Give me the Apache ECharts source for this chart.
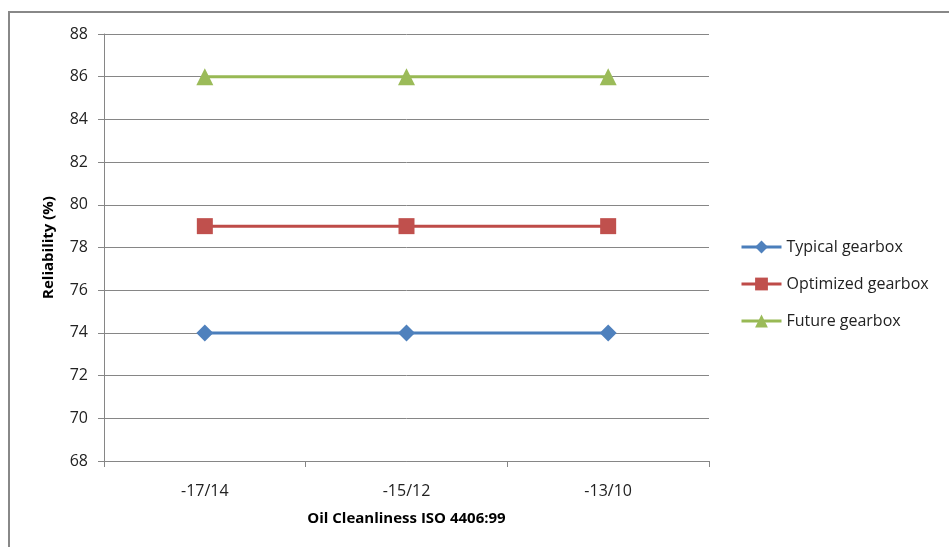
<!DOCTYPE html>
<html><head><meta charset="utf-8">
<script src="https://cdn.jsdelivr.net/npm/echarts@6/dist/echarts.min.js"></script>
<style>html,body{margin:0;padding:0;background:#fff}#c{width:949px;height:547px}</style>
</head><body><div id="c"></div>
<script>
const categories = ['-17/14', '-15/12', '-13/10'];
const typical = [74, 74, 74];
const optimized = [79, 79, 79];
const future = [86, 86, 86];
const seriesNames = ['Typical gearbox', 'Optimized gearbox', 'Future gearbox'];

const FONT = 'Open Sans';
const chart = echarts.init(document.getElementById('c'), null, {renderer: 'canvas'});
function mk(name, data, color, fill, symbol, size) {
  return {
    name, type: 'line', data, symbol, symbolSize: size,
    lineStyle: {color, width: 3},
    itemStyle: {color: fill},
    emphasis: {disabled: true},
    animation: false
  };
}
chart.setOption({
  animation: false,
  graphic: [{
    type: 'rect', shape: {x: 9, y: 12, width: 950, height: 560},
    style: {fill: 'none', stroke: '#888', lineWidth: 2}, silent: true
  }],
  grid: {left: 104, right: 240, top: 34, bottom: 86},
  legend: {
    orient: 'vertical', left: 735, top: 234, itemGap: 21,
    itemWidth: 40, itemHeight: 16,
    lineStyle: {width: 3},
    textStyle: {fontFamily: FONT, fontSize: 16, color: '#222'},
    data: seriesNames
  },
  xAxis: {
    type: 'category', data: categories, boundaryGap: true,
    name: 'Oil Cleanliness ISO 4406:99', nameLocation: 'middle', nameGap: 50,
    nameTextStyle: {fontFamily: FONT, fontSize: 15, fontWeight: 'bold', color: '#000'},
    axisLine: {lineStyle: {color: '#868686', width: 1}},
    axisTick: {show: true, length: 6, lineStyle: {color: '#868686'}},
    axisLabel: {fontFamily: FONT, fontSize: 16, color: '#222', margin: 22}
  },
  yAxis: {
    type: 'value', min: 68, max: 88, interval: 2,
    name: 'Reliability (%)', nameLocation: 'middle', nameGap: 48, nameRotate: 90,
    nameTextStyle: {fontFamily: FONT, fontSize: 15, fontWeight: 'bold', color: '#000'},
    axisLine: {show: true, lineStyle: {color: '#868686', width: 1}},
    axisTick: {show: true, length: 6, lineStyle: {color: '#868686'}},
    axisLabel: {fontFamily: FONT, fontSize: 16, color: '#222', margin: 16},
    splitLine: {lineStyle: {color: '#868686', width: 1}}
  },
  series: [
    mk(seriesNames[0], typical, '#4A7EBB', '#4F81BD', 'diamond', 17),
    mk(seriesNames[1], optimized, '#BE4B48', '#C0504D', 'rect', 16),
    mk(seriesNames[2], future, '#98B954', '#9BBB59', 'triangle', 17)
  ]
});
</script></body></html>
